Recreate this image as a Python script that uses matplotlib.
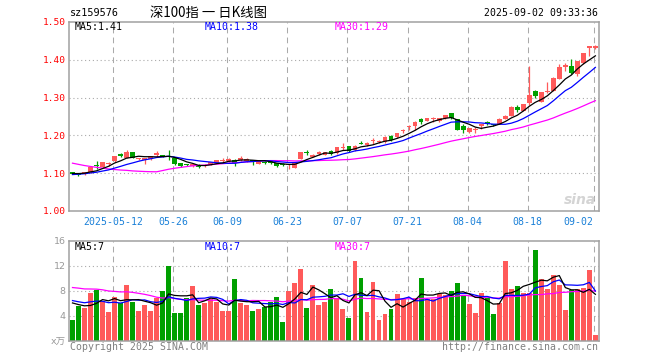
import numpy as np
import pandas as pd
import matplotlib
matplotlib.use("Agg")
import matplotlib.pyplot as plt
from matplotlib.transforms import blended_transform_factory

# ---------------- data ----------------
open_ = [1.102, 1.097, 1.097, 1.102, 1.121, 1.116, 1.123, 1.131, 1.152, 1.140,
         1.155, 1.137, 1.136, 1.1375, 1.147, 1.147, 1.145, 1.140, 1.127, 1.124,
         1.119, 1.122, 1.118, 1.1223, 1.1277, 1.1313, 1.131, 1.1357, 1.134, 1.131,
         1.134, 1.125, 1.129, 1.131, 1.127, 1.125, 1.121, 1.115, 1.138, 1.1545,
         1.143, 1.152, 1.149, 1.158, 1.1535, 1.167, 1.171, 1.160, 1.178, 1.174,
         1.184, 1.183, 1.182, 1.198, 1.195, 1.211, 1.221, 1.224, 1.242, 1.238,
         1.242, 1.237, 1.247, 1.258, 1.242, 1.226, 1.210, 1.214, 1.224, 1.236,
         1.229, 1.230, 1.244, 1.2515, 1.276, 1.2655, 1.2847, 1.317, 1.289, 1.3145,
         1.317, 1.350, 1.382, 1.3825, 1.362, 1.391, 1.431, 1.4306]
close = [1.099, 1.095, 1.102, 1.116, 1.119, 1.129, 1.125, 1.145, 1.145, 1.155,
         1.140, 1.139, 1.139, 1.1446, 1.153, 1.144, 1.143, 1.124, 1.118, 1.1205,
         1.124, 1.116, 1.122, 1.1286, 1.135, 1.134, 1.1375, 1.127, 1.140, 1.1375,
         1.1295, 1.131, 1.127, 1.127, 1.118, 1.1205, 1.123, 1.1286, 1.1554, 1.153,
         1.149, 1.1535, 1.156, 1.151, 1.169, 1.170, 1.159, 1.173, 1.177, 1.181,
         1.185, 1.185, 1.195, 1.189, 1.206, 1.213, 1.223, 1.235, 1.236, 1.246,
         1.244, 1.246, 1.253, 1.247, 1.215, 1.213, 1.219, 1.216, 1.229, 1.231,
         1.227, 1.244, 1.2515, 1.276, 1.267, 1.283, 1.3066, 1.304, 1.3135, 1.3155,
         1.352, 1.381, 1.3835, 1.365, 1.396, 1.418, 1.435, 1.4375]
high = [1.103, 1.099, 1.104, 1.117, 1.133, 1.130, 1.129, 1.146, 1.153, 1.162,
        1.156, 1.141, 1.141, 1.146, 1.158, 1.149, 1.162, 1.142, 1.128, 1.125,
        1.127, 1.123, 1.124, 1.130, 1.136, 1.139, 1.139, 1.137, 1.1446, 1.139,
        1.135, 1.132, 1.132, 1.132, 1.128, 1.126, 1.125, 1.130, 1.157, 1.161,
        1.150, 1.158, 1.157, 1.160, 1.170, 1.180, 1.172, 1.175, 1.184, 1.182,
        1.192, 1.188, 1.197, 1.200, 1.207, 1.218, 1.227, 1.237, 1.246, 1.247,
        1.249, 1.247, 1.254, 1.260, 1.244, 1.230, 1.220, 1.222, 1.231, 1.239,
        1.230, 1.245, 1.253, 1.277, 1.279, 1.284, 1.3825, 1.321, 1.315, 1.341,
        1.353, 1.388, 1.391, 1.403, 1.397, 1.419, 1.436, 1.438]
low = [1.097, 1.093, 1.096, 1.101, 1.112, 1.115, 1.118, 1.130, 1.143, 1.139,
       1.139, 1.135, 1.124, 1.136, 1.144, 1.143, 1.136, 1.122, 1.116, 1.118,
       1.116, 1.114, 1.116, 1.121, 1.126, 1.128, 1.130, 1.118, 1.133, 1.130,
       1.122, 1.124, 1.125, 1.125, 1.116, 1.119, 1.110, 1.114, 1.137, 1.147,
       1.142, 1.147, 1.148, 1.149, 1.152, 1.162, 1.157, 1.159, 1.176, 1.173,
       1.178, 1.180, 1.181, 1.186, 1.193, 1.205, 1.214, 1.215, 1.231, 1.237,
       1.235, 1.236, 1.242, 1.244, 1.213, 1.206, 1.205, 1.207, 1.216, 1.228,
       1.225, 1.229, 1.242, 1.250, 1.262, 1.264, 1.280, 1.300, 1.288, 1.311,
       1.316, 1.348, 1.370, 1.362, 1.357, 1.390, 1.411, 1.428]
# volume, 万手
volume = [3.3, 5.6, 5.2, 7.7, 8.1, 6.3, 4.6, 7.0, 6.0, 8.9,
          6.2, 4.8, 5.7, 4.8, 6.9, 8.0, 12.0, 4.5, 4.5, 6.9,
          8.8, 5.7, 6.0, 6.7, 6.2, 4.8, 4.8, 9.9, 6.0, 5.7,
          4.8, 5.1, 5.4, 6.2, 7.0, 3.0, 8.0, 9.2, 11.5, 5.3,
          8.9, 5.7, 6.2, 8.3, 6.9, 5.1, 3.7, 12.7, 10.0, 4.6,
          9.4, 3.3, 4.3, 5.1, 7.5, 6.7, 6.2, 6.9, 10.0, 6.7,
          6.7, 7.5, 7.3, 8.0, 9.2, 7.1, 5.9, 4.5, 7.7, 6.9,
          4.3, 6.1, 12.7, 8.3, 8.8, 7.6, 7.6, 14.5, 9.9, 8.3,
          10.5, 8.9, 4.9, 8.1, 8.3, 8.5, 11.3, 0.9]
# closes / volumes before the first visible day (inferred from the MA lines' starting levels)
prior_close = [1.19, 1.195, 1.19, 1.185, 1.19, 1.195, 1.19, 1.185, 1.18, 1.185,
               1.165, 1.16, 1.16, 1.16, 1.045, 1.04, 1.045, 1.05, 1.058, 1.063,
               1.085, 1.09, 1.095, 1.10, 1.098, 1.095, 1.097, 1.099, 1.105]
prior_volume = [8.5, 9.0, 8.0, 8.8, 9.5, 10.2, 9.0, 8.6, 8.2, 9.0,
                9.4, 10.5, 11.0, 14.5, 12.0, 10.0, 9.0, 8.5, 8.3, 9.0,
                7.5, 6.8, 6.2, 7.0, 6.5, 6.9, 6.2, 7.4, 6.4]
tick_index = [7, 17, 26, 36, 46, 56, 66, 76, 87]
tick_labels = ["2025-05-12", "05-26", "06-09", "06-23", "07-07", "07-21", "08-04", "08-18", "09-02"]
price_ticks = [1.00, 1.10, 1.20, 1.30, 1.40, 1.50]
vol_ticks = [0, 4, 8, 12, 16]
vol_tick_labels = ["x万", "4", "8", "12", "16"]
code = "sz159576"
title = "深100指 一 日K线图"
stamp = "2025-09-02 09:33:36"

# ---------------- derived ----------------
o = np.array(open_); c = np.array(close); h = np.array(high); l = np.array(low)
v = np.array(volume)
n = len(c)
x = np.arange(n)
np_ = len(prior_close)
ca = pd.Series(np.concatenate([prior_close, c]))
va = pd.Series(np.concatenate([prior_volume, v]))
ma = {w: ca.rolling(w).mean().to_numpy()[np_:] for w in (5, 10, 30)}
vma = {w: va.rolling(w).mean().to_numpy()[len(prior_volume):] for w in (5, 10, 30)}

RED = "#ff5a5a"
GREEN = "#00a000"
MA_COL = {5: "black", 10: "#0000ff", 30: "#ff00ff"}
GRID = "#aaaaaa"
SPINE = "#a0a0a0"
MONO = "DejaVu Sans Mono"

W, H = 660, 360
fig = plt.figure(figsize=(W / 100, H / 100), dpi=100)
fig.patch.set_facecolor("white")
L, R = 69.0, 598.5
t1, b1 = 21.9, 211.0
t2, b2 = 240.7, 340.7
ax1 = fig.add_axes([L / W, 1 - b1 / H, (R - L) / W, (b1 - t1) / H])
ax2 = fig.add_axes([L / W, 1 - b2 / H, (R - L) / W, (b2 - t2) / H])

xl = (-0.58, 87.52)
up = c >= o
cols = np.where(up, RED, GREEN)

for ax in (ax1, ax2):
    ax.set_xlim(*xl)
    ax.set_facecolor("white")
    for s in ax.spines.values():
        s.set_color(SPINE)
        s.set_linewidth(1.1)
    ax.set_xticks([])
    ax.tick_params(axis="y", length=0)
    for ti in tick_index:
        ax.axvline(ti - 0.25, color=GRID, lw=0.75, ls=(0, (5.5, 4)), zorder=0)

# price panel
ax1.set_ylim(1.0, 1.5)
for p in price_ticks[1:-1]:
    ax1.axhline(p, color=GRID, lw=0.8, ls=(0, (1, 2.5)), zorder=0)
ax1.vlines(x, l, h, colors=cols, lw=0.9, zorder=2)
body_b = np.minimum(o, c)
body_h = np.maximum(np.abs(c - o), 0.0028)
ax1.bar(x, body_h, bottom=body_b, width=0.8, color=cols, lw=0, zorder=3)
for w in (30, 10, 5):
    ax1.plot(x, ma[w], color=MA_COL[w], lw=0.9, zorder=4)
ax1.set_yticks(price_ticks)
ax1.set_yticklabels([f"{p:.2f}" for p in price_ticks], color="#ff0000",
                    fontsize=6.8, family=MONO)
ax1.tick_params(axis="y", pad=2.5)

# volume panel
ax2.set_ylim(0, 16)
for q in vol_ticks[1:-1]:
    ax2.axhline(q, color=GRID, lw=0.8, ls=(0, (1, 2.5)), zorder=0)
ax2.bar(x, v, width=0.82, color=cols, lw=0, zorder=2)
for w in (30, 10, 5):
    ax2.plot(x, vma[w], color=MA_COL[w], lw=0.9, zorder=4)
ax2.set_yticks(vol_ticks)
ax2.set_yticklabels(vol_tick_labels, color="#999999", fontsize=6.8,
                    family=["DejaVu Sans", "Noto Sans CJK SC"])
ax2.tick_params(axis="y", pad=2.5)

# x labels
tr = blended_transform_factory(ax1.transData, fig.transFigure)
for ti, lab in zip(tick_index, tick_labels):
    ha = "right" if ti == tick_index[-1] else "center"
    xx = ti - 0.25 + (0.0 if ha == "center" else 0.0)
    ax1.text(xx, 1 - 221.7 / H, lab, transform=tr, ha=ha, va="center",
             fontsize=7.1, family=MONO, color="#1a80d8", clip_on=False)

def ftext(px, py, s, **kw):
    fig.text(px / W, 1 - py / H, s, **kw)

# header
ftext(69.5, 12.7, code, ha="left", va="center", fontsize=7.25, family=MONO, color="black")
ftext(150, 12.7, title, ha="left", va="center", fontsize=9.6,
      family=["Noto Sans CJK SC", "DejaVu Sans"], color="black")
ftext(597.6, 12.7, stamp, ha="right", va="center", fontsize=7.1, family=MONO, color="black")

# legends
for w, px in ((5, 74.6), (10, 205), (30, 335)):
    ftext(px, 27.5, f"MA{w}:{ma[w][-1]:.2f}", ha="left", va="center",
          fontsize=7.1, family=MONO, color=MA_COL[w])
    ftext(px, 246.5, f"MA{w}:{int(vma[w][-1])}", ha="left", va="center",
          fontsize=7.1, family=MONO, color=MA_COL[w])

# watermark
ftext(596, 200, "sina", ha="right", va="center", fontsize=10, style="italic",
      weight="bold", color="#d4d4d4", family="DejaVu Sans")

# footer
ftext(69.5, 346.5, "Copyright 2025 SINA.COM", ha="left", va="center",
      fontsize=7.15, family=MONO, color="#808080")
ftext(597.6, 346.5, "http://finance.sina.com.cn", ha="right", va="center",
      fontsize=7.15, family=MONO, color="#808080")

fig.savefig("out.png", dpi=100, facecolor="white")
